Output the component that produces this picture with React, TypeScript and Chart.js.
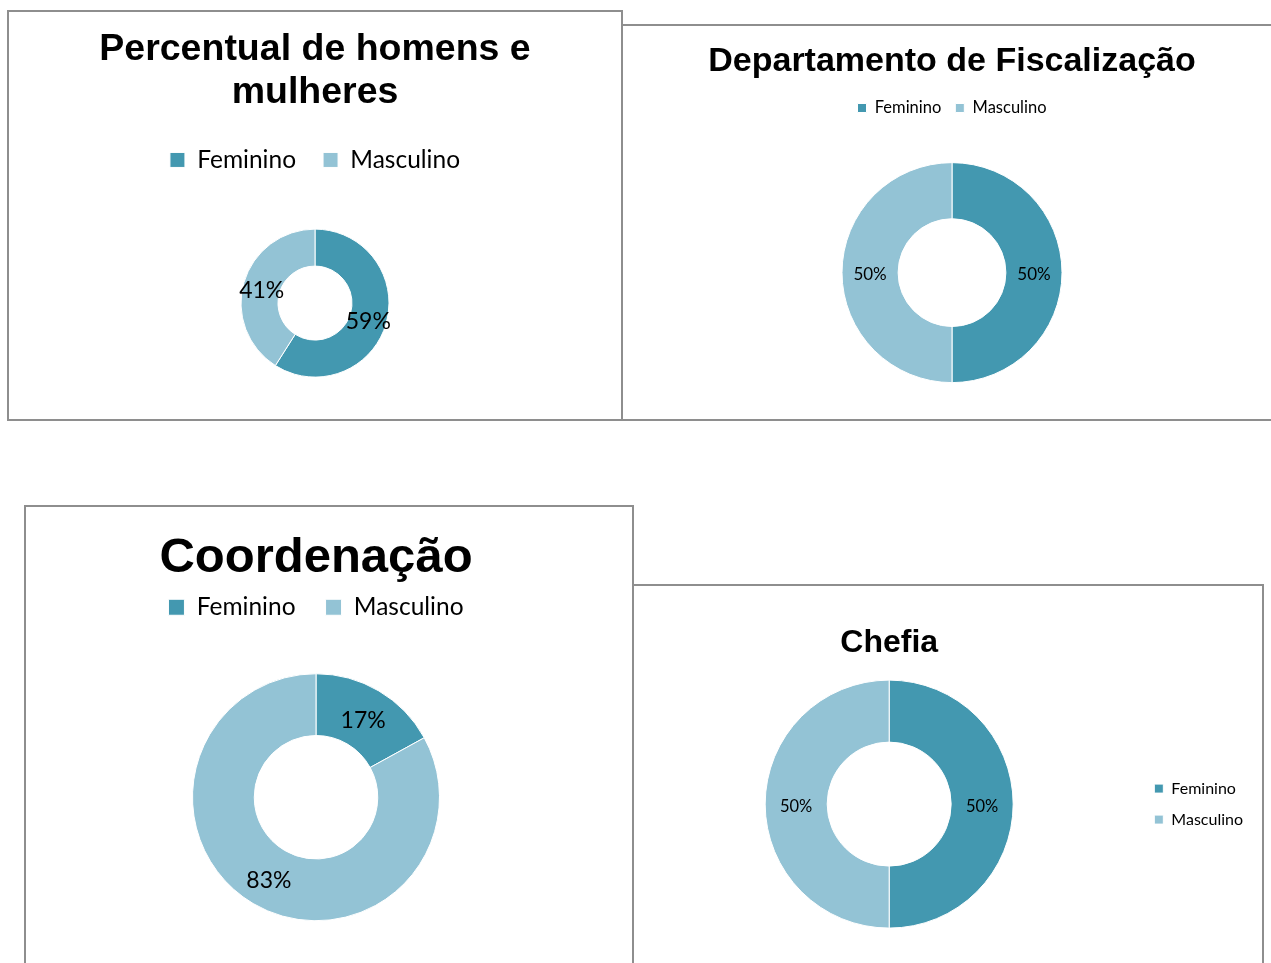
import React, { useEffect, useRef } from 'react';
import { Chart, registerables } from 'chart.js';

Chart.register(...registerables);

// ---- data ----
const categories = ['Feminino', 'Masculino'];
const sliceColors = ['#4398b0', '#93c3d5'];
const geralValues = [59, 41];
const fiscalizacaoValues = [50, 50];
const coordenacaoValues = [17, 83];
const chefiaValues = [50, 50];
const geralTitle = ['Percentual de homens e', 'mulheres'];
const fiscalizacaoTitle = 'Departamento de Fiscalização';
const coordenacaoTitle = 'Coordenação';
const chefiaTitle = 'Chefia';

const TITLE_FONT = '"Liberation Sans", Arial, sans-serif';
const TEXT_FONT = 'Lato, "Open Sans", sans-serif';

type Panel = {
  key: string;
  values: number[];
  title: string | string[];
  box: { left: number; top: number; width: number; height: number };
  canvas: { width: number; height: number };
  titleFont: { size: number; lineHeight: number; padTop: number; padBottom: number; fullSize: boolean };
  legend: { position: 'top' | 'right'; size: number; box: number; padding: number; fullSize: boolean };
  layoutPadding: { left: number; right: number; top: number; bottom: number };
  radius: number;
  cutout: string;
  labelSize: number;
  labelDy: number;
};

const panels: Panel[] = [
  {
    key: 'geral',
    values: geralValues,
    title: geralTitle,
    box: { left: 7, top: 10, width: 616, height: 411 },
    canvas: { width: 612, height: 412 },
    titleFont: { size: 37.5, lineHeight: 1.16, padTop: 15.5, padBottom: 6.2, fullSize: true },
    legend: { position: 'top', size: 24.5, box: 15, padding: 27, fullSize: true },
    layoutPadding: { left: 0, right: 0, top: 0, bottom: 0 },
    radius: 74,
    cutout: '50%',
    labelSize: 23,
    labelDy: 3,
  },
  {
    key: 'fiscalizacao',
    values: fiscalizacaoValues,
    title: fiscalizacaoTitle,
    box: { left: 621, top: 24, width: 662, height: 397 },
    canvas: { width: 658, height: 393 },
    titleFont: { size: 34, lineHeight: 1.2, padTop: 15.6, padBottom: 3.35, fullSize: true },
    legend: { position: 'top', size: 16.5, box: 9, padding: 14, fullSize: true },
    layoutPadding: { left: 0, right: 0, top: 0, bottom: -1 },
    radius: 110,
    cutout: '49%',
    labelSize: 17,
    labelDy: 1.5,
  },
  {
    key: 'coordenacao',
    values: coordenacaoValues,
    title: coordenacaoTitle,
    box: { left: 24, top: 505, width: 610, height: 470 },
    canvas: { width: 606, height: 458 },
    titleFont: { size: 49, lineHeight: 1.2, padTop: 21.6, padBottom: -22.4, fullSize: true },
    legend: { position: 'top', size: 24.5, box: 16, padding: 30, fullSize: true },
    layoutPadding: { left: 0, right: 26, top: 0, bottom: 0 },
    radius: 123.5,
    cutout: '50%',
    labelSize: 23,
    labelDy: 3.5,
  },
  {
    key: 'chefia',
    values: chefiaValues,
    title: chefiaTitle,
    box: { left: 632, top: 584, width: 632, height: 400 },
    canvas: { width: 628, height: 352 },
    titleFont: { size: 32, lineHeight: 1.2, padTop: 37.8, padBottom: 8, fullSize: false },
    legend: { position: 'right', size: 16, box: 9, padding: 15, fullSize: false },
    layoutPadding: { left: 5, right: 9, top: 0, bottom: 0 },
    radius: 124,
    cutout: '50%',
    labelSize: 16.5,
    labelDy: 2.5,
  },
];

const pctLabels = {
  id: 'pctLabels',
  afterDatasetsDraw(chart: any, _args: any, opts: any) {
    const { ctx } = chart;
    const meta = chart.getDatasetMeta(0);
    const data = chart.data.datasets[0].data as number[];
    ctx.save();
    ctx.font = `${opts.size}px ${TEXT_FONT}`;
    ctx.fillStyle = '#000';
    ctx.textAlign = 'center';
    ctx.textBaseline = 'middle';
    meta.data.forEach((arc: any, i: number) => {
      const p = arc.tooltipPosition(false);
      ctx.fillText(`${data[i]}%`, p.x, p.y + (opts.dy || 0));
    });
    ctx.restore();
  },
};

function DoughnutPanel({ p }: { p: Panel }) {
  const ref = useRef<HTMLCanvasElement | null>(null);
  useEffect(() => {
    if (!ref.current) return;
    const chart = new Chart(ref.current, {
      type: 'doughnut',
      data: {
        labels: categories,
        datasets: [
          {
            data: p.values,
            backgroundColor: sliceColors,
            borderColor: '#ffffff',
            borderWidth: 1,
          } as any,
        ],
      },
      options: {
        responsive: false,
        animation: false,
        radius: p.radius,
        cutout: p.cutout,
        layout: { padding: p.layoutPadding },
        plugins: {
          title: {
            display: true,
            text: p.title,
            color: '#000',
            fullSize: p.titleFont.fullSize,
            font: { family: TITLE_FONT, weight: 'bold', size: p.titleFont.size, lineHeight: p.titleFont.lineHeight },
            padding: { top: p.titleFont.padTop, bottom: p.titleFont.padBottom },
          },
          legend: {
            display: true,
            position: p.legend.position,
            fullSize: p.legend.fullSize,
            labels: {
              color: '#000',
              font: { family: TEXT_FONT, size: p.legend.size },
              boxWidth: p.legend.box,
              boxHeight: p.legend.box,
              padding: p.legend.padding,
            },
          },
          tooltip: { enabled: false },
          pctLabels: { size: p.labelSize, dy: p.labelDy },
        } as any,
      } as any,
      plugins: [pctLabels as any],
    });
    return () => chart.destroy();
  }, [p]);

  return (
    <div
      style={{
        position: 'absolute',
        left: p.box.left,
        top: p.box.top,
        width: p.box.width,
        height: p.box.height,
        boxSizing: 'border-box',
        border: '2px solid #8e8e8e',
        background: '#fff',
        overflow: 'hidden',
      }}
    >
      <canvas
        ref={ref}
        width={p.canvas.width}
        height={p.canvas.height}
        style={{ display: 'block', width: p.canvas.width, height: p.canvas.height }}
      />
    </div>
  );
}

export default function App() {
  return (
    <div
      style={{
        position: 'absolute',
        left: 0,
        top: 0,
        width: 1271,
        height: 963,
        overflow: 'hidden',
        background: '#fff',
      }}
    >
      {panels.map((p) => (
        <DoughnutPanel key={p.key} p={p} />
      ))}
    </div>
  );
}
